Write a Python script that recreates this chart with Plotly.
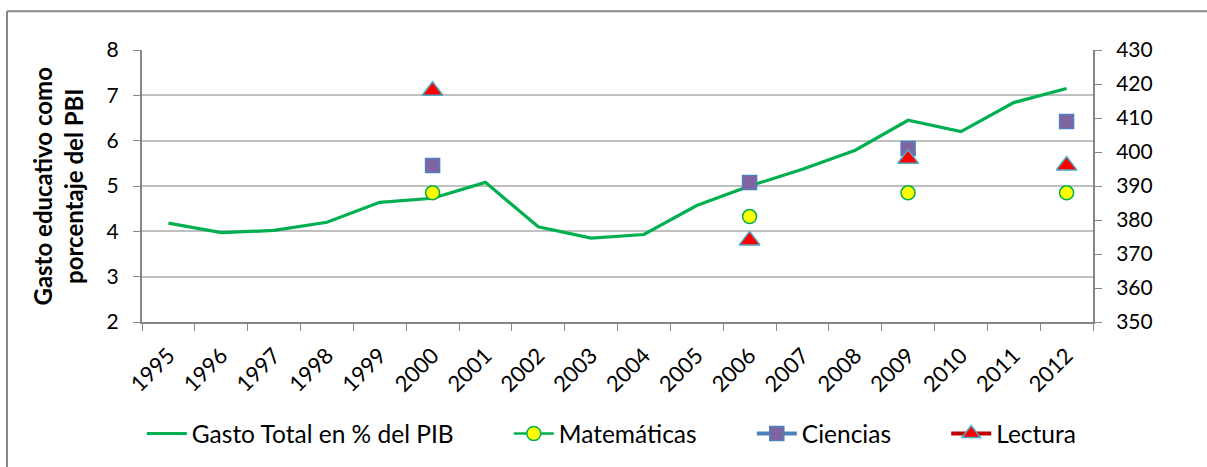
import plotly.graph_objects as go

years = [str(y) for y in range(1995, 2013)]
gasto = [4.18, 3.97, 4.02, 4.20, 4.64, 4.73, 5.08, 4.10, 3.85, 3.93, 4.57, 5.00, 5.37, 5.79, 6.45, 6.20, 6.84, 7.15]
matematicas = [None]*5 + [388] + [None]*5 + [381] + [None]*2 + [388] + [None]*2 + [388]
ciencias = [None]*5 + [396] + [None]*5 + [391] + [None]*2 + [401] + [None]*2 + [409]
lectura = [None]*5 + [418] + [None]*5 + [374] + [None]*2 + [398] + [None]*2 + [396]

FONT = "Lato, Calibri, sans-serif"
PAD = "\u00a0" * 8

fig = go.Figure()
fig.add_trace(go.Scatter(x=years, y=gasto, mode="lines", name="Gasto Total en % del PIB" + PAD,
                         line=dict(color="#00b050", width=3.2)))
fig.add_trace(go.Scatter(x=years, y=matematicas, mode="lines+markers", name="Matemáticas" + PAD, yaxis="y2",
                         line=dict(color="#00b050", width=2.5),
                         marker=dict(symbol="circle", size=14, color="#ffff00",
                                     line=dict(color="#00b050", width=1.5))))
fig.add_trace(go.Scatter(x=years, y=ciencias, mode="lines+markers", name="Ciencias" + PAD, yaxis="y2",
                         line=dict(color="#4f81bd", width=4),
                         marker=dict(symbol="square", size=14, color="#8064a2",
                                     line=dict(color="#4f81bd", width=1.5))))
fig.add_trace(go.Scatter(x=years, y=lectura, mode="lines+markers", name="Lectura", yaxis="y2",
                         line=dict(color="#c00000", width=4),
                         marker=dict(symbol="triangle-up", size=18, color="#ff0000",
                                     line=dict(color="#4bacc6", width=1.5))))

fig.update_layout(
    width=1207, height=467,
    margin=dict(l=142, r=114, t=50, b=144),
    paper_bgcolor="white", plot_bgcolor="white",
    font=dict(family=FONT, color="black", size=21),
    showlegend=True,
    legend=dict(orientation="h", x=0.494, xanchor="center", y=-0.405, yanchor="middle",
                font=dict(size=24.5, family=FONT), itemwidth=40, traceorder="normal"),
    xaxis=dict(type="category", range=[-0.5, 17.5], tickangle=-45, tickson="boundaries",
               ticks="outside", ticklen=7,
               tickcolor="#868686", showline=True, linecolor="#868686", linewidth=2,
               showgrid=False, tickfont=dict(size=22, family=FONT), ticklabelstandoff=10),
    yaxis=dict(range=[2, 8], dtick=1, ticks="outside", ticklen=7, tickcolor="#868686",
               showline=True, linecolor="#868686", linewidth=2, showgrid=True,
               gridcolor="#c0c0c0", gridwidth=1.5, zeroline=False,
               tickfont=dict(size=21, family=FONT), ticklabelstandoff=10),
    yaxis2=dict(range=[350, 430], dtick=10, overlaying="y", side="right", ticks="outside",
                ticklen=7, tickcolor="#868686", showline=True, linecolor="#868686", linewidth=2,
                showgrid=False, zeroline=False, tickfont=dict(size=21, family=FONT),
                ticklabelstandoff=10),
    annotations=[dict(text="<b>Gasto educativo como<br>porcentaje del PBI</b>", textangle=-90,
                      xref="paper", yref="paper", x=(58-142)/951, y=(323-187)/273,
                      xanchor="center", yanchor="middle", showarrow=False,
                      font=dict(size=24, family=FONT))],
    shapes=[dict(type="line", xref="paper", yref="paper", x0=(7-142)/951, x1=(1207-142)/951,
                 y0=(323-11)/273, y1=(323-11)/273, line=dict(color="#868686", width=2)),
            dict(type="line", xref="paper", yref="paper", x0=(7-142)/951, x1=(7-142)/951,
                 y0=(323-11)/273, y1=(323-470)/273, line=dict(color="#868686", width=2))],
)

fig.write_html("out.html", config={"displayModeBar": False},
               post_script="document.body.style.margin='0';")
